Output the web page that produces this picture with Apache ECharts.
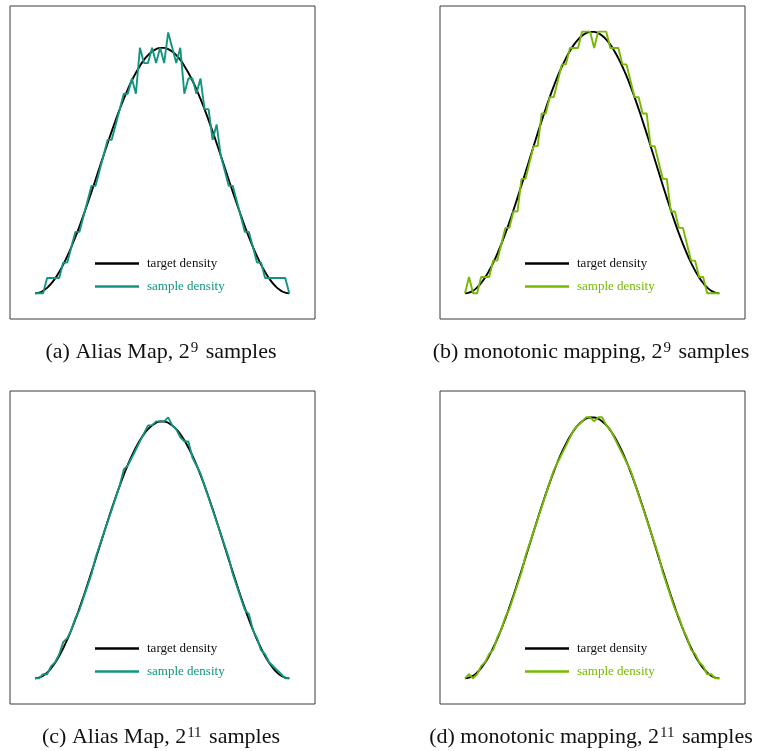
<!DOCTYPE html>
<html><head><meta charset="utf-8">
<script src="https://cdn.jsdelivr.net/npm/echarts@6/dist/echarts.min.js"></script>
<style>html,body{margin:0;padding:0;background:#fff}#c{width:759px;height:751px}</style>
</head><body><div id="c"></div>
<script>
// target density (normalised, peak ~1) per bin
const targetDensity = [0,0.0025,0.0099,0.0222,0.0393,0.0609,0.0869,0.1170,0.1509,0.1883,0.2287,0.2719,0.3174,0.3647,0.4132,0.4626,0.5125,0.5622,0.6113,0.6592,0.7055,0.75,0.7918,0.8307,0.8665,0.8980,0.9261,0.9505,0.9699,0.9843,0.9944,0.9994,
  0.9994,0.9944,0.9843,0.9699,0.9505,0.9261,0.8980,0.8665,0.8307,0.7918,0.75,0.7055,0.6592,0.6113,0.5622,0.5125,0.4626,0.4132,0.3647,0.3174,0.2719,0.2287,0.1883,0.1509,0.1170,0.0869,0.0609,0.0393,0.0222,0.0099,0.0025,0];
// sample counts per bin (64 bins)
const aliasMap9 = [0,0,0,1,1,1,1,2,2,3,4,4,5,6,7,7,8,9,10,10,11,12,13,13,14,13,16,15,15,16,15,16,15,17,16,15,16,13,14,14,13,14,12,12,10,11,9,8,7,7,6,5,4,4,3,2,2,1,1,1,1,1,1,0];
const monotonic9 = [0,1,0,0,1,1,1,2,2,3,4,4,5,5,7,7,8,9,9,11,11,12,12,13,14,14,15,15,15,16,16,16,15,16,16,16,15,15,15,14,14,13,12,12,11,11,9,9,8,7,7,5,5,4,4,3,2,2,1,1,0,0,0,0];
const aliasMap11 = [0,0,1,1,3,4,6,9,10,12,15,17,20,23,26,30,33,36,39,42,45,48,52,53,55,57,59,61,63,63,64,64,64,65,63,62,60,59,59,55,53,51,48,45,42,39,36,33,30,26,23,20,17,16,12,10,7,6,4,3,2,1,0,0];
const monotonic11 = [0,1,0,1,3,4,6,7,10,12,15,17,20,23,26,30,33,36,39,42,45,48,51,53,55,57,59,61,62,63,64,64,63,64,64,62,61,59,57,55,53,51,48,45,42,39,36,33,30,26,23,20,17,15,12,10,7,6,4,3,1,1,0,0];
const panelSamples = [512, 512, 2048, 2048];
const captions = ['(a) Alias Map, 2{s|9} samples','(b) monotonic mapping, 2{s|9} samples','(c) Alias Map, 2{s|11} samples','(d) monotonic mapping, 2{s|11} samples'];
const legendNames = ['target density','sample density'];

const TEAL = '#12957f', GREEN = '#76b900';
const samples = [aliasMap9, monotonic9, aliasMap11, monotonic11];
const colors = [TEAL, GREEN, TEAL, GREEN];
const yRanges = [[-1.674,18.72],[-1.572,17.57],[-6.40,71.56],[-6.30,70.45]];
const boxes = [[10,6],[440,6],[10,391],[440,391]];
const FONT = 'Liberation Serif';

const grid=[], xAxis=[], yAxis=[], series=[], legend=[], title=[];
boxes.forEach((b,k)=>{
  grid.push({left:b[0], top:b[1], width:305, height:313, show:true, borderColor:'#3a3a3a', borderWidth:1, backgroundColor:'transparent'});
  xAxis.push({type:'value', gridIndex:k, min:-6.19, max:69.37, show:false});
  yAxis.push({type:'value', gridIndex:k, min:yRanges[k][0], max:yRanges[k][1], show:false});
  const peak = panelSamples[k]/32;
  const tName = legendNames[0] + ' '.repeat(k);
  const sName = legendNames[1] + ' '.repeat(k);
  series.push({type:'line', name:tName, xAxisIndex:k, yAxisIndex:k, showSymbol:false, smooth:true, silent:true,
    lineStyle:{color:'#000', width:1.9}, itemStyle:{color:'#000'},
    data: targetDensity.map((v,i)=>[i, v*peak])});
  series.push({type:'line', name:sName, xAxisIndex:k, yAxisIndex:k, showSymbol:false, silent:true,
    lineStyle:{color:colors[k], width:1.9}, itemStyle:{color:colors[k]},
    data: samples[k].map((v,i)=>[i, v])});
  legend.push({orient:'vertical', left:b[0]+80, top:b[1]+246, itemWidth:44, itemHeight:2.4, itemGap:10, icon:'rect',
    selectedMode:false,
    data:[{name:tName, textStyle:{color:'#111'}}, {name:sName, textStyle:{color:colors[k]}}],
    textStyle:{fontFamily:FONT, fontSize:13, padding:[0,0,0,3]}});
  title.push({text:captions[k], left:b[0]+146, top:b[1]+330, textAlign:'center',
    textStyle:{fontFamily:FONT, fontSize:22, fontWeight:'normal', color:'#111',
      rich:{s:{fontFamily:FONT, fontSize:15, verticalAlign:'top', lineHeight:15, color:'#111', padding:[0,2,0,1]}}}});
});

const chart = echarts.init(document.getElementById('c'), null, {renderer:'canvas'});
chart.setOption({animation:false, backgroundColor:'#fff', grid, xAxis, yAxis, series, legend, title});
</script>
</body></html>
